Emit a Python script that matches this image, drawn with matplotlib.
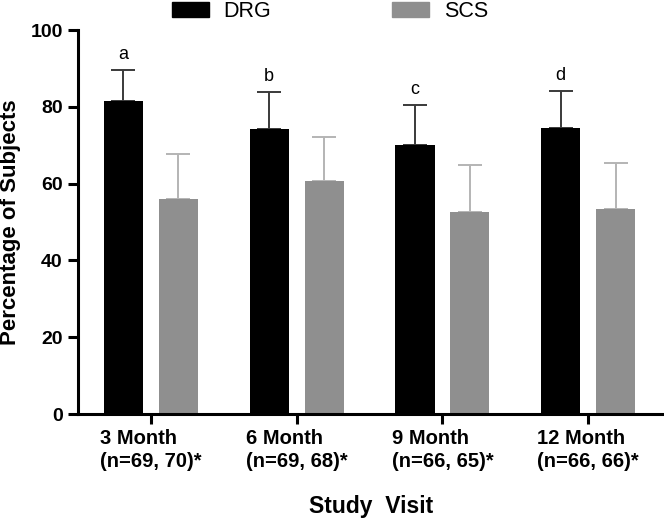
import numpy as np
import matplotlib

matplotlib.use("Agg")
import matplotlib.pyplot as plt
from matplotlib.patches import Patch

plt.rcParams["font.family"] = ["Liberation Sans", "DejaVu Sans"]

visits = ["3 Month", "6 Month", "9 Month", "12 Month"]
n_labels = ["(n=69, 70)*", "(n=69, 68)*", "(n=66, 65)*", "(n=66, 66)*"]
drg = [81.5, 74.3, 70.0, 74.6]
drg_err = [8.2, 9.5, 10.4, 9.6]
scs = [56.0, 60.7, 52.6, 53.3]
scs_err = [11.6, 11.4, 12.2, 12.1]
sig_letters = ["a", "b", "c", "d"]

x = np.arange(len(visits))
w = 0.268
off = 0.188

fig = plt.figure(figsize=(6.64, 5.19), dpi=100)
ax = fig.add_axes([0.1175, 0.2023, 0.8825, 0.7397])

ax.bar(x - off, drg, w, color="black", zorder=2)
ax.bar(x + off, scs, w, color="#8f8f8f", zorder=2)
# only the upper half of each error bar is shown
ax.errorbar(x - off, drg, yerr=[np.zeros(4), drg_err], fmt="none",
            ecolor="#3a3a3a", elinewidth=1.4, capsize=8.5, capthick=1.4, zorder=1)
ax.errorbar(x + off, scs, yerr=[np.zeros(4), scs_err], fmt="none",
            ecolor="#b4b4b4", elinewidth=1.4, capsize=8.5, capthick=1.4, zorder=1)

for i, s in enumerate(sig_letters):
    ax.annotate(s, (x[i] - off, drg[i] + drg_err[i]), xytext=(0, 5),
                textcoords="offset points", ha="center", va="bottom", fontsize=13)

ax.set_xlim(-0.5, 3.52)
ax.set_ylim(0, 100)
ax.set_yticks([0, 20, 40, 60, 80, 100])
ax.set_xticks(x)
ax.set_xticklabels([f"{v}\n{n}" for v, n in zip(visits, n_labels)],
                   fontsize=14.5, fontweight="bold", multialignment="left",
                   linespacing=1.25)
for lab in ax.get_yticklabels():
    lab.set_fontsize(14)
    lab.set_fontweight("bold")

for side in ["top", "right"]:
    ax.spines[side].set_visible(False)
for side in ["left", "bottom"]:
    ax.spines[side].set_linewidth(2.2)
ax.tick_params(axis="both", width=2.2, length=7, pad=4)

ax.set_ylabel("Percentage of Subjects", fontsize=16, fontweight="bold", labelpad=7)
ax.set_xlabel("Study  Visit", fontsize=16.5, fontweight="bold", labelpad=17)

handles = [Patch(color="black"), Patch(color="#8f8f8f")]
fig.legend(handles, ["DRG", "SCS"], loc="center", bbox_to_anchor=(0.497, 0.978),
           ncol=2, frameon=False, fontsize=15.5, handlelength=1.7, handleheight=0.75,
           handletextpad=0.7, columnspacing=5.6)

fig.savefig("out.png", dpi=100)
